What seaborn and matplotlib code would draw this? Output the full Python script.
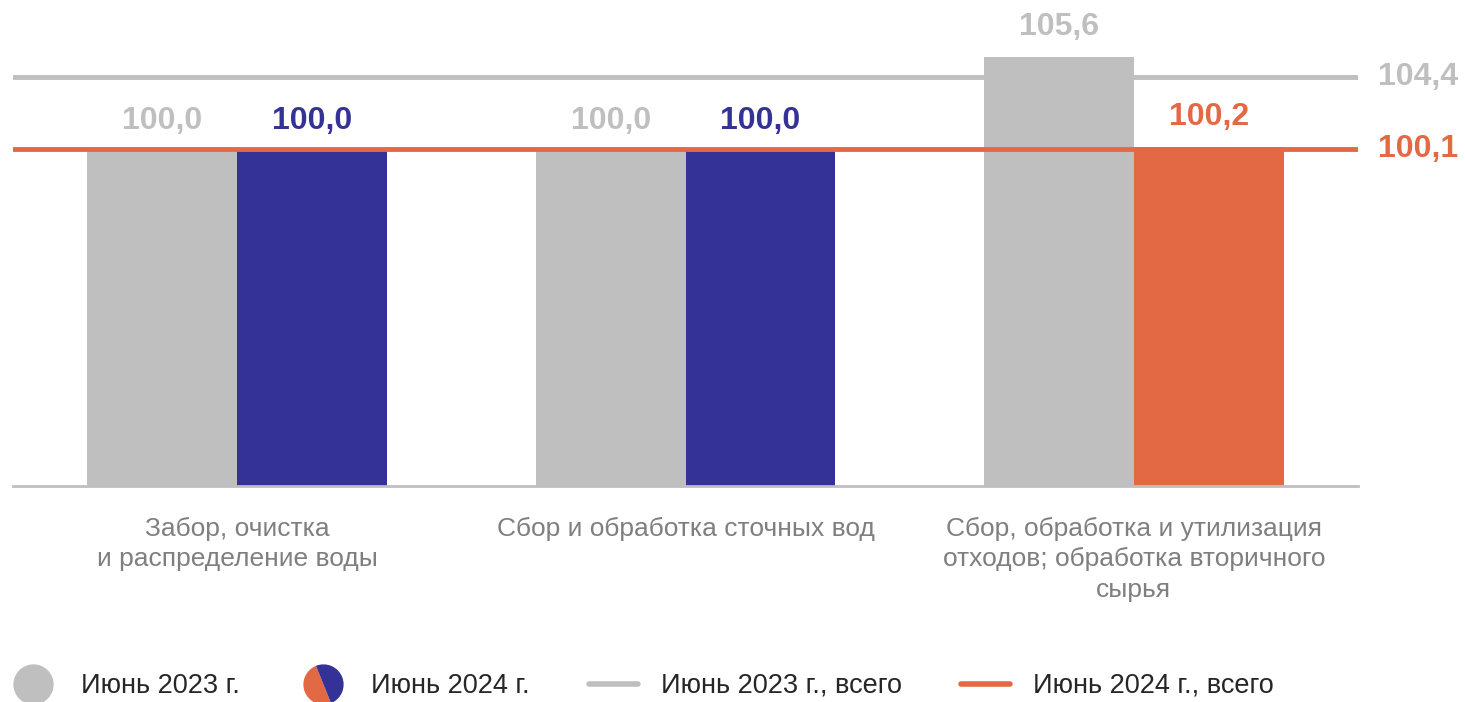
import numpy as np
import pandas as pd
import matplotlib
matplotlib.use('Agg')
import matplotlib.pyplot as plt
from matplotlib.lines import Line2D
from matplotlib.markers import MarkerStyle
from matplotlib.transforms import Affine2D
import seaborn as sns

# ---- data ----
categories = ['Забор, очистка\nи распределение воды',
              'Сбор и обработка сточных вод',
              'Сбор, обработка и утилизация\nотходов; обработка вторичного\nсырья']
jun_2023 = [100.0, 100.0, 105.6]
jun_2024 = [100.0, 100.0, 100.2]
total_2023 = 104.4
total_2024 = 100.1
series_names = ['Июнь 2023 г.', 'Июнь 2024 г.']
legend_labels = ['Июнь 2023 г.', 'Июнь 2024 г.', 'Июнь 2023 г., всего', 'Июнь 2024 г., всего']

GRAY = '#bfbfbf'
BLUE = '#353297'
ORANGE = '#e36945'
TXT_GRAY = '#7f7f7f'

df = pd.DataFrame({
    'category': categories * 2,
    'value': jun_2023 + jun_2024,
    'series': [series_names[0]] * 3 + [series_names[1]] * 3,
})

sns.set_style('white')
plt.rcParams['font.family'] = ['Liberation Sans', 'DejaVu Sans']

fig = plt.figure(figsize=(14.65, 7.02), dpi=100)
ax = fig.add_axes([13 / 1465, 1 - 486 / 702, (1358 - 13) / 1465, 486 / 702])

sns.barplot(data=df, x='category', y='value', hue='series', palette=[GRAY, BLUE],
            width=0.668, dodge=True, gap=0, legend=False, ax=ax, saturation=1)

# 2024 bars: orange when above the total, blue otherwise
bar_colors_2024 = [ORANGE if v > total_2024 else BLUE for v in jun_2024]
for patch, c in zip(ax.containers[1], bar_colors_2024):
    patch.set_facecolor(c)
    patch.set_edgecolor('none')
for patch in ax.containers[0]:
    patch.set_edgecolor('none')

ax.set_ylim(80, 109)
ax.set_xlim(-0.5, 2.5)

# total lines
ax.axhline(total_2023, color=GRAY, lw=3.5, zorder=3)
ax.axhline(total_2024, color=ORANGE, lw=3.5, zorder=3)
for val, col in [(total_2023, GRAY), (total_2024, ORANGE)]:
    ax.text(1.0 + 20 / 1345, val, f'{val:.1f}'.replace('.', ','),
            transform=ax.get_yaxis_transform(), va='center', ha='left',
            fontsize=23, fontweight='bold', color=col, clip_on=False)

# value labels
for cont, vals, cols in [(ax.containers[0], jun_2023, [GRAY] * 3),
                         (ax.containers[1], jun_2024, bar_colors_2024)]:
    for patch, v, c in zip(cont, vals, cols):
        ax.annotate(f'{v:.1f}'.replace('.', ','),
                    (patch.get_x() + patch.get_width() / 2, v),
                    xytext=(0, 11), textcoords='offset points',
                    ha='center', va='bottom', fontsize=23, fontweight='bold', color=c)

ax.set_xlabel('')
ax.set_ylabel('')
ax.set_yticks([])
ax.tick_params(axis='x', length=0, pad=22, labelsize=19, labelcolor=TXT_GRAY)
for lbl in ax.get_xticklabels():
    lbl.set_linespacing(1.34)
for s in ['top', 'left', 'right']:
    ax.spines[s].set_visible(False)
ax.spines['bottom'].set_color(GRAY)
ax.spines['bottom'].set_linewidth(2)

# legend
split = MarkerStyle('o', fillstyle='left', transform=Affine2D().rotate_deg(22))
handles = [
    Line2D([], [], ls='none', marker='o', markersize=29, markerfacecolor=GRAY, markeredgecolor='none'),
    Line2D([], [], ls='none', marker=split, markersize=29, markerfacecolor=ORANGE,
           markerfacecoloralt=BLUE, markeredgecolor='none'),
    Line2D([], [], color=GRAY, lw=4),
    Line2D([], [], color=ORANGE, lw=4),
]
fig.legend(handles, legend_labels, loc='center left', bbox_to_anchor=(0.006, 1 - 686 / 702),
           ncol=4, frameon=False, fontsize=19.5, handlelength=1.8, handletextpad=0.85,
           columnspacing=2.2, labelcolor='#262626', borderaxespad=0, borderpad=0)

fig.savefig('out.png', dpi=100)
